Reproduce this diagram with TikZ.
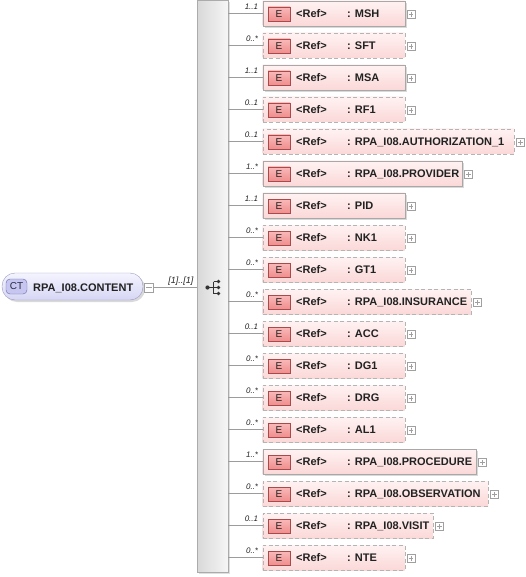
\documentclass[tikz,border=0pt]{standalone}
\usepackage{fontspec}
\setmainfont{Liberation Sans}
\usetikzlibrary{positioning,shadows}
\definecolor{elemtop}{HTML}{FFF2F2}
\definecolor{elembot}{HTML}{FBD8D8}
\definecolor{elemline}{HTML}{A8A8A8}
\definecolor{optline}{HTML}{B4B4B4}
\definecolor{etagtop}{HTML}{F9B9B9}
\definecolor{etagbot}{HTML}{F08E8E}
\definecolor{etagline}{HTML}{A84A4A}
\definecolor{roottop}{HTML}{F4F4FF}
\definecolor{rootbot}{HTML}{D6D6F4}
\definecolor{rootline}{HTML}{9A9AC0}
\definecolor{ctfill}{HTML}{C6C6F0}
\definecolor{ctline}{HTML}{6A6AA8}
\definecolor{seqleft}{HTML}{D8D8D8}
\definecolor{seqright}{HTML}{F6F6F6}
\definecolor{seqline}{HTML}{ABABAB}
\definecolor{connline}{HTML}{9C9C9C}
\definecolor{plusline}{HTML}{A0A0A0}
\definecolor{textdark}{HTML}{222222}

\begin{document}
\begin{tikzpicture}
	 [scale =1]
	 \tikzset{every node/.style={font=\fontsize{11}{13}\selectfont}}
	\tikzstyle{reqbox}=[rectangle,draw=elemline,top color=elemtop,bottom color=elembot,anchor=west,minimum height=25pt,minimum width=142pt,inner sep=0pt,drop shadow={shadow xshift=2pt,shadow yshift=-2pt,opacity=0.3}]
	\tikzstyle{optbox}=[rectangle,draw=optline,dash pattern=on 4pt off 2.5pt,top color=elemtop,bottom color=elembot,anchor=west,minimum height=25pt,minimum width=142pt,inner sep=0pt]
	\tikzstyle{etag}=[rectangle,draw=etagline,top color=etagtop,bottom color=etagbot,minimum width=22pt,minimum height=14pt,inner sep=0pt,font=\fontsize{10}{10}\selectfont,text=textdark]
	\tikzstyle{reftxt}=[anchor=west,inner sep=0pt,text height=8pt,text depth=0pt,font=\fontsize{11}{11}\selectfont\bfseries,text=textdark]
	\tikzstyle{plus}=[rectangle,draw=plusline,fill=white,minimum size=8pt,inner sep=0pt,path picture={\draw[plusline] ([xshift=1.8pt]path picture bounding box.west) -- ([xshift=-1.8pt]path picture bounding box.east) ([yshift=-1.8pt]path picture bounding box.north) -- ([yshift=1.8pt]path picture bounding box.south);}]
	\tikzstyle{minus}=[rectangle,draw=plusline,fill=white,minimum size=9pt,inner sep=0pt,path picture={\draw[plusline] ([xshift=1.8pt]path picture bounding box.west) -- ([xshift=-1.8pt]path picture bounding box.east);}]
	\tikzstyle{conn}=[draw=connline,line width=0.8pt]
	\tikzstyle{card}=[anchor=base east,inner sep=0pt,xshift=-4pt,yshift=4pt,font=\fontsize{8}{8}\selectfont\itshape,text=textdark]
	\useasboundingbox (0 pt,0 pt) rectangle (525 pt,-577 pt);
	% root type and sequence
	\node [rectangle,rounded corners=13pt,draw=rootline,top color=roottop,bottom color=rootbot,minimum width=141pt,minimum height=27pt,drop shadow={shadow xshift=2pt,shadow yshift=-2pt,opacity=0.3}](root) at (72.5 pt,-286.5 pt){};
	\node [rectangle,rounded corners=4pt,draw=ctline,fill=ctfill,minimum width=21pt,minimum height=15pt,inner sep=0pt,font=\fontsize{10}{10}\selectfont,text=ctline!40!black](roottag) at (16.5 pt,-286.5 pt){CT};
	\node [reftxt](rootname) at (33 pt,-287 pt){RPA\_I08.CONTENT};
	\node [minus](rootm) at (149 pt,-287.5 pt){};
	\node [rectangle,draw=seqline,left color=seqleft,right color=seqright,minimum width=31pt,minimum height=571.5pt,inner sep=0pt,drop shadow={shadow xshift=2pt,shadow yshift=-2pt,opacity=0.25}](seq) at (212.5 pt,-286.25 pt){};
	\draw [conn] (rootm.east) -- (rootm.east -| seq.west) node [card,xshift=1pt,font=\fontsize{9}{9}\selectfont\itshape] {[1]..[1]};
	% sequence icon
	\draw [black!80,line width=1pt] (207.5 pt,-287.5 pt) -- (213.5 pt,-287.5 pt) (213.5 pt,-281.5 pt) -- (213.5 pt,-293.5 pt) (213.5 pt,-281.5 pt) -- (218.5 pt,-281.5 pt) (213.5 pt,-287.5 pt) -- (218.5 pt,-287.5 pt) (213.5 pt,-293.5 pt) -- (218.5 pt,-293.5 pt);
	\fill [black!80] (207.5 pt,-287.5 pt) circle (2.1pt) (218.5 pt,-281.5 pt) circle (1.9pt) (218.5 pt,-287.5 pt) circle (1.9pt) (218.5 pt,-293.5 pt) circle (1.9pt);
	% elements
	\node [reqbox](e1) at (262.5 pt,-13.5 pt){};
	\node [etag](e1t) at (279 pt,-14 pt){E};
	\node [reftxt](e1r) at (296 pt,-13.5 pt){<Ref>};
	\node [reftxt](e1n) at (347 pt,-13.5 pt){: MSH};
	\node [plus](e1p) at (411 pt,-14.5 pt){};
	\draw [conn] (seq.east |- e1.west) -- (e1.west) node [card] {1..1};
	\node [optbox](e2) at (262.5 pt,-45.5 pt){};
	\node [etag](e2t) at (279 pt,-46 pt){E};
	\node [reftxt](e2r) at (296 pt,-45.5 pt){<Ref>};
	\node [reftxt](e2n) at (347 pt,-45.5 pt){: SFT};
	\node [plus](e2p) at (411 pt,-46.5 pt){};
	\draw [conn] (seq.east |- e2.west) -- (e2.west) node [card] {0..*};
	\node [reqbox](e3) at (262.5 pt,-77.5 pt){};
	\node [etag](e3t) at (279 pt,-78 pt){E};
	\node [reftxt](e3r) at (296 pt,-77.5 pt){<Ref>};
	\node [reftxt](e3n) at (347 pt,-77.5 pt){: MSA};
	\node [plus](e3p) at (411 pt,-78.5 pt){};
	\draw [conn] (seq.east |- e3.west) -- (e3.west) node [card] {1..1};
	\node [optbox](e4) at (262.5 pt,-109.5 pt){};
	\node [etag](e4t) at (279 pt,-110 pt){E};
	\node [reftxt](e4r) at (296 pt,-109.5 pt){<Ref>};
	\node [reftxt](e4n) at (347 pt,-109.5 pt){: RF1};
	\node [plus](e4p) at (411 pt,-110.5 pt){};
	\draw [conn] (seq.east |- e4.west) -- (e4.west) node [card] {0..1};
	\node [optbox,minimum width=251.5pt](e5) at (262.5 pt,-141.5 pt){};
	\node [etag](e5t) at (279 pt,-142 pt){E};
	\node [reftxt](e5r) at (296 pt,-141.5 pt){<Ref>};
	\node [reftxt](e5n) at (347 pt,-141.5 pt){: RPA\_I08.AUTHORIZATION\_1};
	\node [plus](e5p) at (520.5 pt,-142.5 pt){};
	\draw [conn] (seq.east |- e5.west) -- (e5.west) node [card] {0..1};
	\node [reqbox,minimum width=199.5pt](e6) at (262.5 pt,-173.5 pt){};
	\node [etag](e6t) at (279 pt,-174 pt){E};
	\node [reftxt](e6r) at (296 pt,-173.5 pt){<Ref>};
	\node [reftxt](e6n) at (347 pt,-173.5 pt){: RPA\_I08.PROVIDER};
	\node [plus](e6p) at (468.5 pt,-174.5 pt){};
	\draw [conn] (seq.east |- e6.west) -- (e6.west) node [card] {1..*};
	\node [reqbox](e7) at (262.5 pt,-205.5 pt){};
	\node [etag](e7t) at (279 pt,-206 pt){E};
	\node [reftxt](e7r) at (296 pt,-205.5 pt){<Ref>};
	\node [reftxt](e7n) at (347 pt,-205.5 pt){: PID};
	\node [plus](e7p) at (411 pt,-206.5 pt){};
	\draw [conn] (seq.east |- e7.west) -- (e7.west) node [card] {1..1};
	\node [optbox](e8) at (262.5 pt,-237.5 pt){};
	\node [etag](e8t) at (279 pt,-238 pt){E};
	\node [reftxt](e8r) at (296 pt,-237.5 pt){<Ref>};
	\node [reftxt](e8n) at (347 pt,-237.5 pt){: NK1};
	\node [plus](e8p) at (411 pt,-238.5 pt){};
	\draw [conn] (seq.east |- e8.west) -- (e8.west) node [card] {0..*};
	\node [optbox](e9) at (262.5 pt,-269.5 pt){};
	\node [etag](e9t) at (279 pt,-270 pt){E};
	\node [reftxt](e9r) at (296 pt,-269.5 pt){<Ref>};
	\node [reftxt](e9n) at (347 pt,-269.5 pt){: GT1};
	\node [plus](e9p) at (411 pt,-270.5 pt){};
	\draw [conn] (seq.east |- e9.west) -- (e9.west) node [card] {0..*};
	\node [optbox,minimum width=208.5pt](e10) at (262.5 pt,-301.5 pt){};
	\node [etag](e10t) at (279 pt,-302 pt){E};
	\node [reftxt](e10r) at (296 pt,-301.5 pt){<Ref>};
	\node [reftxt](e10n) at (347 pt,-301.5 pt){: RPA\_I08.INSURANCE};
	\node [plus](e10p) at (477.5 pt,-302.5 pt){};
	\draw [conn] (seq.east |- e10.west) -- (e10.west) node [card] {0..*};
	\node [optbox](e11) at (262.5 pt,-333.5 pt){};
	\node [etag](e11t) at (279 pt,-334 pt){E};
	\node [reftxt](e11r) at (296 pt,-333.5 pt){<Ref>};
	\node [reftxt](e11n) at (347 pt,-333.5 pt){: ACC};
	\node [plus](e11p) at (411 pt,-334.5 pt){};
	\draw [conn] (seq.east |- e11.west) -- (e11.west) node [card] {0..1};
	\node [optbox](e12) at (262.5 pt,-365.5 pt){};
	\node [etag](e12t) at (279 pt,-366 pt){E};
	\node [reftxt](e12r) at (296 pt,-365.5 pt){<Ref>};
	\node [reftxt](e12n) at (347 pt,-365.5 pt){: DG1};
	\node [plus](e12p) at (411 pt,-366.5 pt){};
	\draw [conn] (seq.east |- e12.west) -- (e12.west) node [card] {0..*};
	\node [optbox](e13) at (262.5 pt,-397.5 pt){};
	\node [etag](e13t) at (279 pt,-398 pt){E};
	\node [reftxt](e13r) at (296 pt,-397.5 pt){<Ref>};
	\node [reftxt](e13n) at (347 pt,-397.5 pt){: DRG};
	\node [plus](e13p) at (411 pt,-398.5 pt){};
	\draw [conn] (seq.east |- e13.west) -- (e13.west) node [card] {0..*};
	\node [optbox](e14) at (262.5 pt,-429.5 pt){};
	\node [etag](e14t) at (279 pt,-430 pt){E};
	\node [reftxt](e14r) at (296 pt,-429.5 pt){<Ref>};
	\node [reftxt](e14n) at (347 pt,-429.5 pt){: AL1};
	\node [plus](e14p) at (411 pt,-430.5 pt){};
	\draw [conn] (seq.east |- e14.west) -- (e14.west) node [card] {0..*};
	\node [reqbox,minimum width=213.5pt](e15) at (262.5 pt,-461.5 pt){};
	\node [etag](e15t) at (279 pt,-462 pt){E};
	\node [reftxt](e15r) at (296 pt,-461.5 pt){<Ref>};
	\node [reftxt](e15n) at (347 pt,-461.5 pt){: RPA\_I08.PROCEDURE};
	\node [plus](e15p) at (482.5 pt,-462.5 pt){};
	\draw [conn] (seq.east |- e15.west) -- (e15.west) node [card] {1..*};
	\node [optbox,minimum width=225.5pt](e16) at (262.5 pt,-493.5 pt){};
	\node [etag](e16t) at (279 pt,-494 pt){E};
	\node [reftxt](e16r) at (296 pt,-493.5 pt){<Ref>};
	\node [reftxt](e16n) at (347 pt,-493.5 pt){: RPA\_I08.OBSERVATION};
	\node [plus](e16p) at (494.5 pt,-494.5 pt){};
	\draw [conn] (seq.east |- e16.west) -- (e16.west) node [card] {0..*};
	\node [optbox,minimum width=170.5pt](e17) at (262.5 pt,-525.5 pt){};
	\node [etag](e17t) at (279 pt,-526 pt){E};
	\node [reftxt](e17r) at (296 pt,-525.5 pt){<Ref>};
	\node [reftxt](e17n) at (347 pt,-525.5 pt){: RPA\_I08.VISIT};
	\node [plus](e17p) at (439.5 pt,-526.5 pt){};
	\draw [conn] (seq.east |- e17.west) -- (e17.west) node [card] {0..1};
	\node [optbox](e18) at (262.5 pt,-557.5 pt){};
	\node [etag](e18t) at (279 pt,-558 pt){E};
	\node [reftxt](e18r) at (296 pt,-557.5 pt){<Ref>};
	\node [reftxt](e18n) at (347 pt,-557.5 pt){: NTE};
	\node [plus](e18p) at (411 pt,-558.5 pt){};
	\draw [conn] (seq.east |- e18.west) -- (e18.west) node [card] {0..*};
	\end{tikzpicture}
\end{document}
